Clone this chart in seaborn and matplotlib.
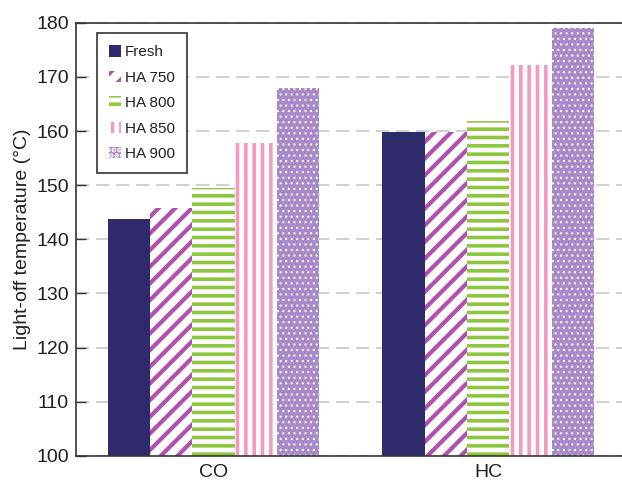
import matplotlib
matplotlib.use("Agg")
import matplotlib.pyplot as plt
import pandas as pd
import seaborn as sns

gases = ["CO", "HC"]
conditions = ["Fresh", "HA 750", "HA 800", "HA 850", "HA 900"]
co_values = [143.7, 145.8, 149.4, 157.7, 167.9]
hc_values = [159.8, 159.9, 161.9, 172.1, 179.1]

colors = ["#2e2a6b", "#b150ad", "#8dc63f", "#f49ac1", "#a98ac9"]
hatches = [None, "//", "--", "||", "..."]

rows = []
for gas, vals in zip(gases, [co_values, hc_values]):
    for cond, v in zip(conditions, vals):
        rows.append({"gas": gas, "condition": cond, "temp": v})
df = pd.DataFrame(rows)

sns.set_style("ticks")
plt.rcParams["font.family"] = ["Liberation Sans", "DejaVu Sans"]
plt.rcParams["hatch.linewidth"] = 2.5
text_color = "#231f20"

fig, ax = plt.subplots(figsize=(6.22, 4.83), dpi=100)
ax.set_position([0.1222, 0.056, 0.8833, 0.897])

sns.barplot(data=df, x="gas", y="temp", hue="condition", order=gases,
            hue_order=conditions, palette=colors, saturation=1,
            width=0.77, errorbar=None, ax=ax, legend=False, zorder=2)

handles = []
for i, cont in enumerate(ax.containers):
    for bar in cont:
        bar.set_linewidth(0)
        if hatches[i] is None:
            continue
        if i == 4:
            bar.set_facecolor(colors[i])
            bar.set_edgecolor("white")
        else:
            bar.set_facecolor("white")
            bar.set_edgecolor(colors[i])
        bar.set_hatch(hatches[i])
        if hasattr(bar, "set_hatch_linewidth"):
            bar.set_hatch_linewidth(0.8 if i == 4 else (3.0 if i == 1 else 2.6))
    handles.append(cont[0])

ax.set_ylim(100, 180)
ax.set_yticks(range(100, 181, 10))
ax.set_xlim(-0.5, 1.5)
ax.yaxis.grid(True, color="#c8c8c8", linestyle=(0, (8, 4)), linewidth=1.2, zorder=0)
ax.set_axisbelow(True)

for side in ["left", "bottom", "top"]:
    ax.spines[side].set_visible(True)
    ax.spines[side].set_color("#333333")
    ax.spines[side].set_linewidth(1.2)
ax.spines["right"].set_visible(False)

ax.tick_params(axis="y", direction="in", length=7, width=1, colors="#333333",
               labelsize=14, labelcolor=text_color, pad=5)
ax.tick_params(axis="x", length=0, labelsize=14, labelcolor=text_color, pad=6)

ax.set_xlabel("")
ax.set_ylabel("Light-off temperature (°C)", fontsize=14, color=text_color, labelpad=4)

leg = ax.legend(handles, conditions, loc="upper left", bbox_to_anchor=(0.038, 0.976),
                borderaxespad=0, fontsize=11, handlelength=0.75, handleheight=0.75,
                handletextpad=0.3, labelspacing=0.75, borderpad=0.8,
                fancybox=False, framealpha=1, edgecolor="#333333")
leg.get_frame().set_linewidth(1.2)
for t in leg.get_texts():
    t.set_color(text_color)

fig.savefig("out.png", dpi=100)
